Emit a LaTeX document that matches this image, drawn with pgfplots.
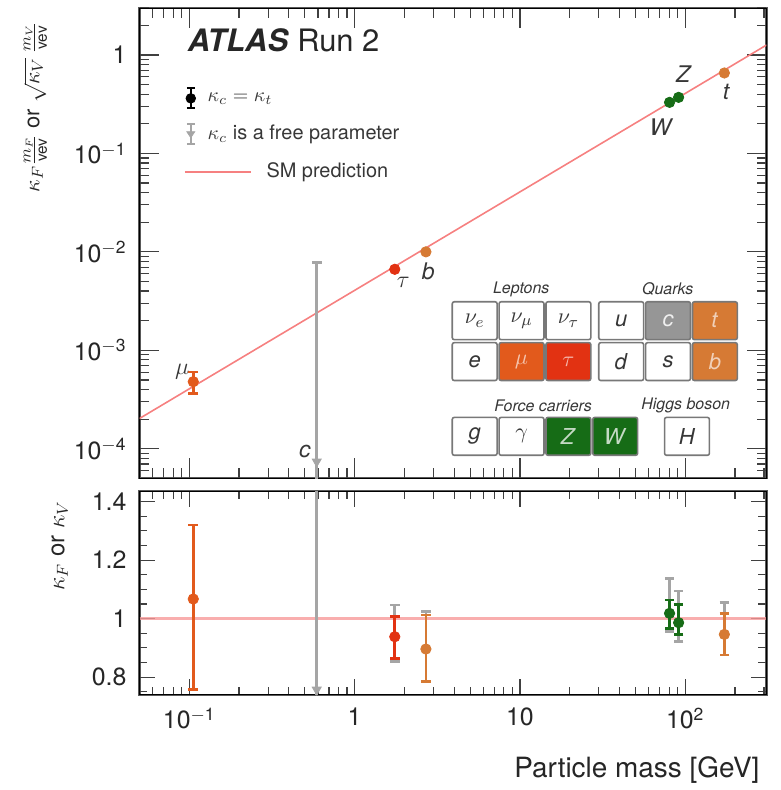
\documentclass[border=0pt]{standalone}
\usepackage{amsmath}
\usepackage{pgfplots}
\pgfplotsset{compat=1.18}
\usepackage{fontspec}
\setmainfont{TeX Gyre Heros}

\definecolor{cmu}{RGB}{226,90,28}
\definecolor{ctau}{RGB}{226,50,18}
\definecolor{cq}{RGB}{214,122,52}
\definecolor{cv}{RGB}{22,108,22}
\definecolor{cgray}{RGB}{165,165,165}
\definecolor{cbox}{RGB}{150,150,150}
\definecolor{smred}{RGB}{246,128,128}
\definecolor{boxgray}{RGB}{120,120,120}
\definecolor{txtgray}{RGB}{55,55,55}

\newcommand{\pbox}[4]{\node[draw=boxgray, line width=0.8pt, rounded corners=1pt, fill=#3,
  minimum width=22.5pt, minimum height=19pt, inner sep=0pt, anchor=north west,
  font=\fontsize{11}{13}\selectfont] at (#1*0.5pt,-#2*0.5pt) {#4};}

\begin{document}
\begin{tikzpicture}

% ---------------- top panel ----------------
\begin{axis}[scale only axis, width=314.5pt, height=236pt, at={(70pt,-240pt)}, anchor=south west,
  xmode=log, ymode=log, xmin=0.05, xmax=310, ymin=5e-5, ymax=3,
  axis background/.style={draw=black!65, line width=1.1pt},
  tick align=inside,
  tick style={black!75, line width=0.6pt},
  major tick length=10pt, minor tick length=5pt,
  xtick={0.1,1,10,100},
  minor xtick={0.06,0.07,0.08,0.09,0.2,0.3,0.4,0.5,0.6,0.7,0.8,0.9,2,3,4,5,6,7,8,9,20,30,40,50,60,70,80,90,200,300},
  xticklabels={},
  ytick={1e-4,1e-3,1e-2,1e-1,1},
  yticklabels={10\textsuperscript{$-$4},10\textsuperscript{$-$3},10\textsuperscript{$-$2},10\textsuperscript{$-$1},1},
  minor ytick={6e-5,7e-5,8e-5,9e-5,2e-4,3e-4,4e-4,5e-4,6e-4,7e-4,8e-4,9e-4,2e-3,3e-3,4e-3,5e-3,6e-3,7e-3,8e-3,9e-3,2e-2,3e-2,4e-2,5e-2,6e-2,7e-2,8e-2,9e-2,0.2,0.3,0.4,0.5,0.6,0.7,0.8,0.9,2,3},
  ticklabel style={font=\fontsize{12.5}{14}\selectfont, text=black!85},
  yticklabel style={xshift=-3pt},
  ylabel={$\kappa_F\tfrac{m_F}{\text{vev}}$ or $\sqrt{\kappa_V}\,\tfrac{m_V}{\text{vev}}$},
  ylabel style={at={(axis description cs:-0.136,0.985)}, anchor=south east, font=\fontsize{11}{13}\selectfont, text=black!85},
  legend style={at={(axis description cs:0.070,0.832)}, anchor=north west, draw=none, fill=none,
    font=\fontsize{10}{12}\selectfont, row sep=6pt, inner sep=0pt, text=txtgray},
  legend cell align=left,
]
\addlegendimage{legend image code/.code={\draw[black, line width=1pt] (3pt,-5pt)--(3pt,5pt) (1pt,-5pt)--(5pt,-5pt) (1pt,5pt)--(5pt,5pt); \fill[black] (3pt,0pt) circle (2.4pt);}}
\addlegendentry{\hspace*{-24pt}$\kappa_c=\kappa_t$}
\addlegendimage{legend image code/.code={\draw[cgray, line width=0.8pt] (3pt,-5pt)--(3pt,5pt) (1pt,-5pt)--(5pt,-5pt) (1pt,5pt)--(5pt,5pt); \fill[cgray] (1pt,1.2pt)--(5pt,1.2pt)--(3pt,-1.8pt)--cycle;}}
\addlegendentry{\hspace*{-24pt}$\kappa_c$ is a free parameter}
\addlegendimage{legend image code/.code={\draw[smred, line width=1pt] (0pt,0pt)--(33pt,0pt);}}
\addlegendentry{\hspace*{5.5pt}SM prediction}

\addplot[smred, line width=0.8pt, forget plot] coordinates {(0.05,2.03e-4) (310,1.26)};
\addplot[only marks, mark=triangle*, mark options={rotate=180}, mark size=2.6pt, color=cgray, forget plot,
  error bars/.cd, y dir=both, y explicit, error bar style={line width=1.3pt}, error mark options={rotate=90, mark size=2.4pt, line width=1.3pt}]
  coordinates {(0.59,7.4e-5) += (0,7.7e-3) -= (0,3.0e-5)};
\addplot[only marks, mark=*, mark size=2.6pt, color=cmu, forget plot,
  error bars/.cd, y dir=both, y explicit, error bar style={line width=1.3pt}, error mark options={rotate=90, mark size=2.4pt, line width=1.3pt}]
  coordinates {(0.1057,4.8e-4) += (0,1.2e-4) -= (0,1.15e-4)};
\addplot[only marks, mark=*, mark size=2.6pt, color=ctau, forget plot]
  coordinates {(1.75,6.65e-3)};
\addplot[only marks, mark=*, mark size=2.6pt, color=cq, forget plot]
  coordinates {(2.7,1.0e-2) (172.5,0.656)};
\addplot[only marks, mark=*, mark size=2.6pt, color=cv, forget plot]
  coordinates {(80.4,0.33) (91.2,0.371)};

\node[font=\fontsize{11.5}{13}\selectfont, text=txtgray] at (axis cs:0.0907,6.1e-4) {$\mu$};
\node[font=\fontsize{11.5}{13}\selectfont, text=txtgray] at (axis cs:1.97,4.9e-3) {$\tau$};
\node[font=\itshape\fontsize{11.5}{13}\selectfont, text=txtgray] at (axis cs:2.79,6.4e-3) {b};
\node[font=\itshape\fontsize{11.5}{13}\selectfont, text=txtgray] at (axis cs:0.50,9.4e-5) {c};
\node[font=\itshape\fontsize{11.5}{13}\selectfont, text=txtgray] at (axis cs:97,0.64) {Z};
\node[font=\itshape\fontsize{11.5}{13}\selectfont, text=txtgray] at (axis cs:70.7,0.185) {W};
\node[font=\itshape\fontsize{11.5}{13}\selectfont, text=txtgray] at (axis cs:176.6,0.42) {t};
\node[anchor=west, font=\fontsize{15.5}{17}\selectfont, text=black!85] at (axis description cs:0.066,0.932) {\textbf{\textit{ATLAS}} Run 2};
\end{axis}

% ---------------- bottom panel ----------------
\begin{axis}[scale only axis, width=314.5pt, height=102pt, at={(70pt,-348.5pt)}, anchor=south west,
  xmode=log, xmin=0.05, xmax=310, ymin=0.74, ymax=1.435,
  axis background/.style={draw=black!65, line width=1.1pt},
  tick align=inside,
  tick style={black!75, line width=0.6pt},
  major tick length=8pt, minor tick length=4pt,
  xtick={0.1,1,10,100},
  minor xtick={0.06,0.07,0.08,0.09,0.2,0.3,0.4,0.5,0.6,0.7,0.8,0.9,2,3,4,5,6,7,8,9,20,30,40,50,60,70,80,90,200,300},
  xticklabels={10\textsuperscript{$-$1},1,10,10\textsuperscript{2}},
  ytick={0.8,1,1.2,1.4}, yticklabels={0.8,1,1.2,1.4},
  minor ytick={0.75,0.85,0.9,0.95,1.05,1.1,1.15,1.25,1.3,1.35},
  ticklabel style={font=\fontsize{12.5}{14}\selectfont, text=black!85},
  yticklabel style={xshift=-3pt}, xticklabel style={yshift=-3pt},
  xlabel={Particle mass [GeV]},
  xlabel style={at={(axis description cs:1,-0.27)}, anchor=north east, font=\fontsize{14}{16}\selectfont, text=black!85},
  ylabel={$\kappa_F$ or $\kappa_V$},
  ylabel style={at={(axis description cs:-0.103,0.99)}, anchor=south east, font=\fontsize{12}{14}\selectfont, text=black!85},
]
\addplot[smred!80, line width=1.6pt, opacity=0.8] coordinates {(0.05,1) (310,1)};
% free-parameter fit (grey)
\addplot[only marks, mark=none, color=cgray,
  error bars/.cd, y dir=both, y explicit, error bar style={line width=1.3pt}, error mark options={rotate=90, mark size=2.4pt, line width=1.3pt}]
  coordinates {(1.75,0.938) += (0,0.109) -= (0,0.085)
               (2.7,0.896) += (0,0.128) -= (0,0.111)
               (80.4,1.018) += (0,0.120) -= (0,0.062)
               (91.2,0.986) += (0,0.109) -= (0,0.065)
               (172.5,0.946) += (0,0.110) -= (0,0.070)};
\addplot[only marks, mark=triangle*, mark options={rotate=180}, mark size=2.6pt, color=cgray,
  error bars/.cd, y dir=both, y explicit, error bar style={line width=1.3pt}, error mark options={rotate=90, mark size=2.4pt, line width=1.3pt}]
  coordinates {(0.59,0.757) += (0,0.75) -= (0,0.05)};
% kappa_c = kappa_t fit (coloured)
\addplot[only marks, mark=*, mark size=2.6pt, color=cmu,
  error bars/.cd, y dir=both, y explicit, error bar style={line width=1.3pt}, error mark options={rotate=90, mark size=2.4pt, line width=1.3pt}]
  coordinates {(0.1057,1.067) += (0,0.253) -= (0,0.310)};
\addplot[only marks, mark=*, mark size=2.6pt, color=ctau,
  error bars/.cd, y dir=both, y explicit, error bar style={line width=1.3pt}, error mark options={rotate=90, mark size=2.4pt, line width=1.3pt}]
  coordinates {(1.75,0.938) += (0,0.069) -= (0,0.074)};
\addplot[only marks, mark=*, mark size=2.6pt, color=cq,
  error bars/.cd, y dir=both, y explicit, error bar style={line width=1.3pt}, error mark options={rotate=90, mark size=2.4pt, line width=1.3pt}]
  coordinates {(2.7,0.896) += (0,0.117) -= (0,0.111) (172.5,0.946) += (0,0.072) -= (0,0.070)};
\addplot[only marks, mark=*, mark size=2.6pt, color=cv,
  error bars/.cd, y dir=both, y explicit, error bar style={line width=1.3pt}, error mark options={rotate=90, mark size=2.4pt, line width=1.3pt}]
  coordinates {(80.4,1.018) += (0,0.046) -= (0,0.051) (91.2,0.986) += (0,0.063) -= (0,0.040)};
\end{axis}

% ---------------- particle table ----------------
\node[text=txtgray, font=\itshape\fontsize{8}{10}\selectfont] at (523*0.5pt,-290*0.5pt) {Leptons};
\node[text=txtgray, font=\itshape\fontsize{8}{10}\selectfont] at (670*0.5pt,-290*0.5pt) {Quarks};
\node[text=txtgray, font=\itshape\fontsize{8}{10}\selectfont] at (545*0.5pt,-407*0.5pt) {Force carriers};
\node[text=txtgray, font=\itshape\fontsize{8}{10}\selectfont] at (688*0.5pt,-407*0.5pt) {Higgs boson};
\pbox{453}{302}{white}{\color{txtgray}$\nu_e$}
\pbox{500}{302}{white}{\color{txtgray}$\nu_\mu$}
\pbox{547}{302}{white}{\color{txtgray}$\nu_\tau$}
\pbox{453}{343}{white}{\color{txtgray}\textit{e}}
\pbox{500}{343}{cmu}{\color{cmu!35!white}$\mu$}
\pbox{547}{343}{ctau}{\color{ctau!35!white}$\tau$}
\pbox{600}{302}{white}{\color{txtgray}\textit{u}}
\pbox{647}{302}{cbox}{\color{white!85!cbox}\textit{c}}
\pbox{694}{302}{cq}{\color{cq!35!white}\textit{t}}
\pbox{600}{343}{white}{\color{txtgray}\textit{d}}
\pbox{647}{343}{white}{\color{txtgray}\textit{s}}
\pbox{694}{343}{cq}{\color{cq!35!white}\textit{b}}
\pbox{453}{418}{white}{\color{txtgray}\textit{g}}
\pbox{500}{418}{white}{\color{txtgray}$\gamma$}
\pbox{547}{418}{cv}{\color{cv!25!white}\textit{Z}}
\pbox{594}{418}{cv}{\color{cv!25!white}\textit{W}}
\pbox{666}{418}{white}{\color{txtgray}\textit{H}}
\path (0pt,0pt) (391.5pt,-395pt);
\end{tikzpicture}
\end{document}
